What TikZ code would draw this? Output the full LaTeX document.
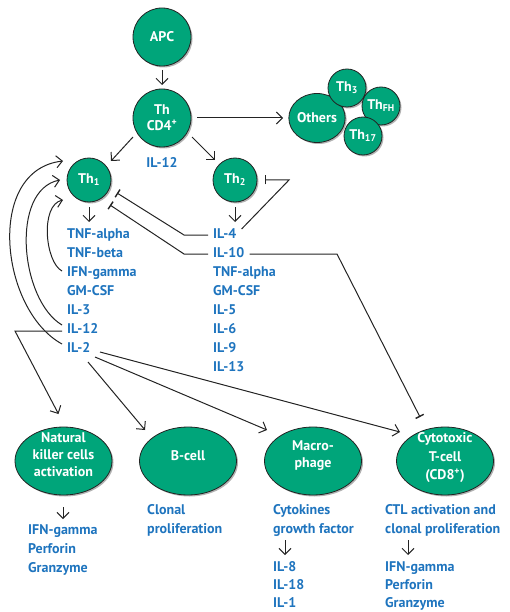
\documentclass[tikz,border=0pt]{standalone}
\usepackage{fontspec}
\setmainfont{PT Sans}
\usetikzlibrary{arrows.meta,shadows,calc,shapes.geometric}
\definecolor{cellgreen}{RGB}{0,165,122}
\definecolor{txtblue}{RGB}{30,116,190}
\definecolor{lineblk}{RGB}{35,35,35}
\newcommand\sbs[1]{\textsubscript{#1}}
\begin{document}
\begin{tikzpicture}[x=1pt,y=-1pt,font=\fontsize{14}{17}\selectfont\bfseries,
  cell/.style={circle,draw=lineblk,line width=0.8pt,fill=cellgreen,text=white,inner sep=0pt,
    drop shadow={shadow xshift=1.5pt,shadow yshift=-1.5pt,opacity=0.3,fill=black}},
  bigcell/.style={ellipse,draw=lineblk,line width=0.8pt,fill=cellgreen,inner sep=0pt,
    minimum width=97pt,minimum height=68pt,
    drop shadow={shadow xshift=1.5pt,shadow yshift=-1.5pt,opacity=0.3,fill=black}},
  celltxt/.style={text=white,align=center,inner sep=0pt},
  lst/.style={anchor=west,text=txtblue,inner sep=0pt,text height=10pt,text depth=3pt},
  arr/.style={draw=lineblk,line width=1pt,-{Straight Barb[length=6pt,width=12pt,line width=1pt]}},
  inh/.style={draw=lineblk,line width=1pt,-{Bar[width=9pt,line width=1.4pt]}}]
\useasboundingbox (0,0) rectangle (510,612);
% top cells
\node[cell,minimum size=58pt] (apc) at (162,37) {APC};
\node[cell,minimum size=58pt,align=center] (thcd4) at (162,118) {Th\\[-1pt]CD4\textsuperscript{+}};
\node[lst,anchor=center] (il12top) at (162,164) {IL-12};
\node[cell,minimum size=44pt] (th1) at (89,180) {Th\sbs{1}};
\node[cell,minimum size=44pt] (th2) at (235,180) {Th\sbs{2}};
% others cluster
\node[cell,ellipse,minimum width=55pt,minimum height=49pt] (others) at (317,118) {Others};
\node[cell,minimum size=38pt] (th3) at (347,88) {Th\sbs{3}};
\node[cell,minimum size=38pt] (thfh) at (381,106) {Th\sbs{FH}};
\node[cell,minimum size=38pt] (th17) at (363,136) {Th\sbs{17}};
% Th1 list
\node[lst] (t1a) at (67,235) {TNF-alpha};
\node[lst] (t1b) at (67,254) {TNF-beta};
\node[lst] (ifn1) at (67,273) {IFN-gamma};
\node[lst] (t1d) at (67,292) {GM-CSF};
\node[lst] (t1e) at (67,311) {IL-3};
\node[lst] (il12) at (67,330) {IL-12};
\node[lst] (il2) at (67,349) {IL-2};
% Th2 list
\node[lst] (il4) at (213,235) {IL-4};
\node[lst] (il10) at (213,254) {IL-10};
\node[lst] (t2c) at (213,273) {TNF-alpha};
\node[lst] (t2d) at (213,292) {GM-CSF};
\node[lst] (t2e) at (213,311) {IL-5};
\node[lst] (t2f) at (213,330) {IL-6};
\node[lst] (t2g) at (213,349) {IL-9};
\node[lst] (t2h) at (213,368) {IL-13};
% bottom cells
\node[bigcell] (nk) at (63.5,461) {};
\node[celltxt] (nkt) at (63.5,455) {Natural\\killer cells\\activation};
\node[bigcell] (bc) at (188,461) {};
\node[celltxt] (bct) at (188,456) {B-cell};
\node[bigcell] (mac) at (313,461) {};
\node[celltxt] (mact) at (313,456) {Macro-\\phage};
\node[bigcell] (cyt) at (445,461) {};
\node[celltxt,font=\fontsize{14}{18.5}\selectfont\bfseries] (cytt) at (445,458) {Cytotoxic\\T-cell\\(CD8\textsuperscript{+})};
% bottom lists
\coordinate (nka) at (63,507);
\coordinate (nkb) at (63,519);
\coordinate (maca) at (285,540);
\coordinate (macb) at (285,555);
\coordinate (cyta) at (408,540);
\coordinate (cytb) at (408,555);
\node[lst] (nk1) at (28,531) {IFN-gamma};
\node[lst] (nk2) at (28,550) {Perforin};
\node[lst] (nk3) at (28,569) {Granzyme};
\node[lst] (b1) at (147,511) {Clonal};
\node[lst] (b2) at (147,530) {proliferation};
\node[lst] (m1) at (273,511) {Cytokines};
\node[lst] (m2) at (273,530) {growth factor};
\node[lst] (m3) at (273,568) {IL-8};
\node[lst] (m4) at (273,586) {IL-18};
\node[lst] (m5) at (273,604) {IL-1};
\node[lst] (c1) at (385,511) {CTL activation and};
\node[lst] (c2) at (385,530) {clonal proliferation};
\node[lst] (c3) at (385,568) {IFN-gamma};
\node[lst] (c4) at (385,586) {Perforin};
\node[lst] (c5) at (385,604) {Granzyme};
% connectors top
\draw[arr] ($(apc)+(0,33)$) -- ($(thcd4)+(0,-33)$);
\draw[arr] ($(thcd4)+(35,0)$) -- ($(others)+(-34,0)$);
\draw[arr] ($(thcd4)+(-29,19)$) -- ($(th1)+(22,-19)$);
\draw[arr] ($(thcd4)+(30,19)$) -- ($(th2)+(-20,-20)$);
\draw[arr] ($(th1)+(0,27)$) -- ($(th1)+(0,42)$);
\draw[arr] ($(th2)+(0,27)$) -- ($(th2)+(0,42)$);
% inhibitions
\draw[inh] ($(il4.west)+(-5,0)$) -- ++(-24,0) -- ($(th1)+(28,13)$);
\draw[inh] ($(il10.west)+(-5,0)$) -- ++(-24,0) -- ($(th1)+(21,25)$);
\draw[inh] ($(il10.east)+(5,0)$) -- (337,254) -- ($(cyt)+(-25,-44)$);
\draw[inh] ($(il4.east)+(5,-6)$) -- ($(th2)+(54,0)$) -- ($(th2)+(30,0)$);
% left loops
\draw[arr] ($(il2.west)+(-5,-5)$) .. controls (0,310) and (-15,170) .. ($(th1)+(-26,-19)$);
\draw[arr] ($(il12.west)+(-5,-5)$) .. controls (20,300) and (10,190) .. ($(th1)+(-29,0)$);
\draw[arr] ($(ifn1.west)+(-5,-2)$) .. controls (45,262) and (40,205) .. ($(th1)+(-26,20)$);
\draw[arr] ($(il12.west)+(-5,1)$) -- (15,331) -- ($(nk)+(-5,-47)$);
% IL-2 targets
\draw[arr] ($(il2.west)+(21,13)$) -- ($(bc)+(-43,-31)$);
\draw[arr] ($(il2.west)+(28,8)$) -- ($(mac)+(-46,-31)$);
\draw[arr] ($(il2.west)+(33,3)$) -- ($(cyt)+(-45,-29)$);
% bottom arrows
\draw[arr] (nka) -- (nkb);
\draw[arr] (maca) -- (macb);
\draw[arr] (cyta) -- (cytb);
\end{tikzpicture}
\end{document}
